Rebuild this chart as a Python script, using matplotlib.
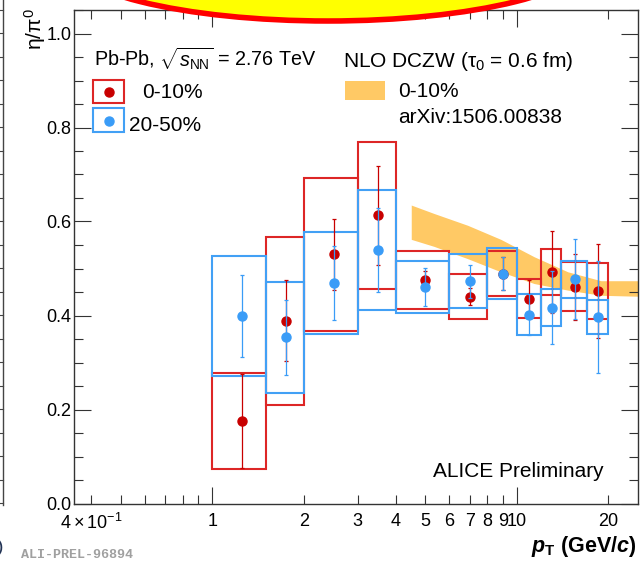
import numpy as np
import matplotlib
matplotlib.use('Agg')
import matplotlib.pyplot as plt
from matplotlib.patches import Rectangle, Ellipse
from matplotlib.lines import Line2D
from matplotlib.transforms import Affine2D
from matplotlib.ticker import FixedLocator, FixedFormatter, NullFormatter

plt.rcParams['font.family'] = ['Liberation Sans', 'DejaVu Sans']
plt.rcParams['mathtext.fontset'] = 'custom'
plt.rcParams['mathtext.rm'] = 'Liberation Sans'
plt.rcParams['mathtext.it'] = 'Liberation Sans:italic'
plt.rcParams['mathtext.bf'] = 'Liberation Sans:bold'
plt.rcParams['mathtext.bfit'] = 'Liberation Sans:bold:italic'

# pT bins (GeV/c)
bin_lo = [1.0, 1.5, 2.0, 3.0, 4.0, 6.0, 8.0, 10.0, 12.0, 14.0, 17.0]
bin_hi = [1.5, 2.0, 3.0, 4.0, 6.0, 8.0, 10.0, 12.0, 14.0, 17.0, 20.0]
pt = [1.25, 1.75, 2.5, 3.5, 5.0, 7.0, 9.0, 11.0, 13.0, 15.5, 18.5]

# eta/pi0, 0-10%
r_val = [0.176, 0.389, 0.530, 0.613, 0.475, 0.440, 0.489, 0.436, 0.493, 0.461, 0.452]
r_stat = [0.100, 0.086, 0.075, 0.105, 0.020, 0.018, 0.035, 0.040, 0.087, 0.070, 0.100]
r_sys = [0.102, 0.179, 0.162, 0.156, 0.062, 0.048, 0.048, 0.041, 0.049, 0.052, 0.059]

# eta/pi0, 20-50%
b_val = [0.399, 0.354, 0.469, 0.539, 0.461, 0.473, 0.489, 0.402, 0.417, 0.477, 0.397]
b_stat = [0.087, 0.080, 0.078, 0.090, 0.040, 0.035, 0.035, 0.044, 0.077, 0.085, 0.120]
b_sys = [0.128, 0.118, 0.108, 0.128, 0.056, 0.057, 0.054, 0.044, 0.040, 0.040, 0.037]

# NLO DCZW band, 0-10%
band_x = [4.5, 5.35, 6.89, 8.86, 11.4, 14.7, 18.9, 25.0]
band_hi = [0.635, 0.617, 0.592, 0.562, 0.525, 0.493, 0.474, 0.474]
band_lo = [0.562, 0.547, 0.521, 0.493, 0.468, 0.454, 0.443, 0.441]

red_box = '#dd2626'
red_mk = '#c80000'
blue_box = '#42a0f5'
blue_mk = '#3a9cf7'
band_col = '#ffc965'

W, H = 640, 562
fig = plt.figure(figsize=(W / 100, H / 100), dpi=100)
pix = Affine2D().scale(1 / W, -1 / H).translate(0, 1) + fig.transFigure

ax = fig.add_axes([74.3 / W, 1 - 503.5 / H, (638 - 74.3) / W, (503.5 - 10) / H])
ax.set_xscale('log')
ax.set_xlim(0.352, 25)
ax.set_ylim(0, 1.05)

ax.fill_between(band_x, band_lo, band_hi, color=band_col, lw=0, zorder=1)

for lo, hi, v, s in zip(bin_lo, bin_hi, r_val, r_sys):
    ax.add_patch(Rectangle((lo, v - s), hi - lo, 2 * s, fill=False,
                           edgecolor=red_box, lw=1.5, zorder=2))
for lo, hi, v, s in zip(bin_lo, bin_hi, b_val, b_sys):
    ax.add_patch(Rectangle((lo, v - s), hi - lo, 2 * s, fill=False,
                           edgecolor=blue_box, lw=1.5, zorder=3))

ax.errorbar(pt, r_val, yerr=r_stat, fmt='o', color=red_mk, ms=6.5,
            elinewidth=0.9, capsize=1.5, capthick=0.9, zorder=4)
ax.errorbar(pt, b_val, yerr=b_stat, fmt='o', color=blue_mk, ms=6.5,
            elinewidth=0.9, capsize=1.5, capthick=0.9, zorder=5)

# axes style
for sp in ax.spines.values():
    sp.set_linewidth(1.0)
    sp.set_color('#333333')
ax.tick_params(which='both', direction='in', top=True, right=True,
               colors='#333333', labelcolor='black', width=0.8)
ax.tick_params(which='major', length=12, labelsize=13)
ax.tick_params(which='minor', length=6.5, labelsize=13)
ax.tick_params(axis='x', which='both', pad=7)
ax.tick_params(axis='y', which='both', pad=2)

ax.xaxis.set_major_locator(FixedLocator([1, 10]))
ax.xaxis.set_major_formatter(FixedFormatter(['1', '10']))
minor_x = [0.4, 0.5, 0.6, 0.7, 0.8, 0.9, 2, 3, 4, 5, 6, 7, 8, 9, 20]
minor_lab = [r'$4\times10^{-1}$', '', '', '', '', '', '2', '3', '4', '5', '6', '7', '8', '9', '20']
ax.xaxis.set_minor_locator(FixedLocator(minor_x))
ax.xaxis.set_minor_formatter(FixedFormatter(minor_lab))

ax.yaxis.set_major_locator(FixedLocator(np.arange(0, 1.01, 0.2)))
ax.yaxis.set_major_formatter(FixedFormatter(['0.0', '0.2', '0.4', '0.6', '0.8', '1.0']))
ax.yaxis.set_minor_locator(FixedLocator(np.arange(0, 1.06, 0.05)))
ax.yaxis.set_minor_formatter(NullFormatter())

# axis titles
fig.text(35 / W, 1 - 8 / H, r'$\mathrm{\eta/\pi^{0}}$', rotation=90,
         ha='center', va='top', fontsize=15)
fig.text(637 / W, 1 - 552 / H,
         r'$\mathbfit{p}_{\mathbf{T}}\ \mathbf{(GeV/}\mathbfit{c}\mathbf{)}$',
         ha='right', va='baseline', fontsize=15.5)

# legend, left
fig.text(94, 66, r'Pb-Pb, $\sqrt{s_{\mathrm{NN}}}$ = 2.76 TeV', transform=pix,
         fontsize=14.2, va='baseline')
fig.add_artist(Rectangle((93.3, 80), 30.7, 22.7, transform=pix, fill=False,
                         edgecolor=red_box, lw=1.5))
fig.add_artist(Line2D([109], [91.5], transform=pix, marker='o', ms=6.5, color=red_mk))
fig.text(142, 98.3, '0-10%', transform=pix, fontsize=15, va='baseline')
fig.add_artist(Rectangle((93.3, 108), 30.7, 24, transform=pix, fill=False,
                         edgecolor=blue_box, lw=1.5))
fig.add_artist(Line2D([109], [120.5], transform=pix, marker='o', ms=6.5, color=blue_mk))
fig.text(129.5, 130.7, '20-50%', transform=pix, fontsize=15, va='baseline')

# legend, right
fig.text(343.3, 67.3, r'NLO DCZW ($\mathrm{\tau_{0}}$ = 0.6 fm)', transform=pix,
         fontsize=15, va='baseline')
fig.add_artist(Rectangle((345, 80.7), 40, 19.3, transform=pix, color=band_col, lw=0))
fig.text(397.7, 96.7, '0-10%', transform=pix, fontsize=15, va='baseline')
fig.text(397.7, 123.3, 'arXiv:1506.00838', transform=pix, fontsize=15, va='baseline')

fig.text(433.3, 476.7, 'ALICE Preliminary', transform=pix, fontsize=15, va='baseline')
fig.text(20.7, 558, 'ALI-PREL-96894', transform=pix, fontsize=9.6,
         family='Liberation Mono', weight='bold', color='#a0a0a0', va='baseline')

# neighbouring panel edge and overlay cut at the top
fig.add_artist(Line2D([2.5, 2.5], [0, 505], transform=pix, color='#444444', lw=1))
for v in np.arange(0, 1.06, 0.05):
    yy = 503.3 - v * 470
    fig.add_artist(Line2D([0, 2.5], [yy, yy], transform=pix, color='#444444', lw=0.8))
fig.text(-3, 552, ')', transform=pix, fontsize=14, color='#223355', va='baseline')
fig.add_artist(Ellipse((328, -45), 530, 132, transform=pix, facecolor='#ffff00',
                       edgecolor='#ff0000', lw=4))

fig.savefig('out.png', dpi=100)
